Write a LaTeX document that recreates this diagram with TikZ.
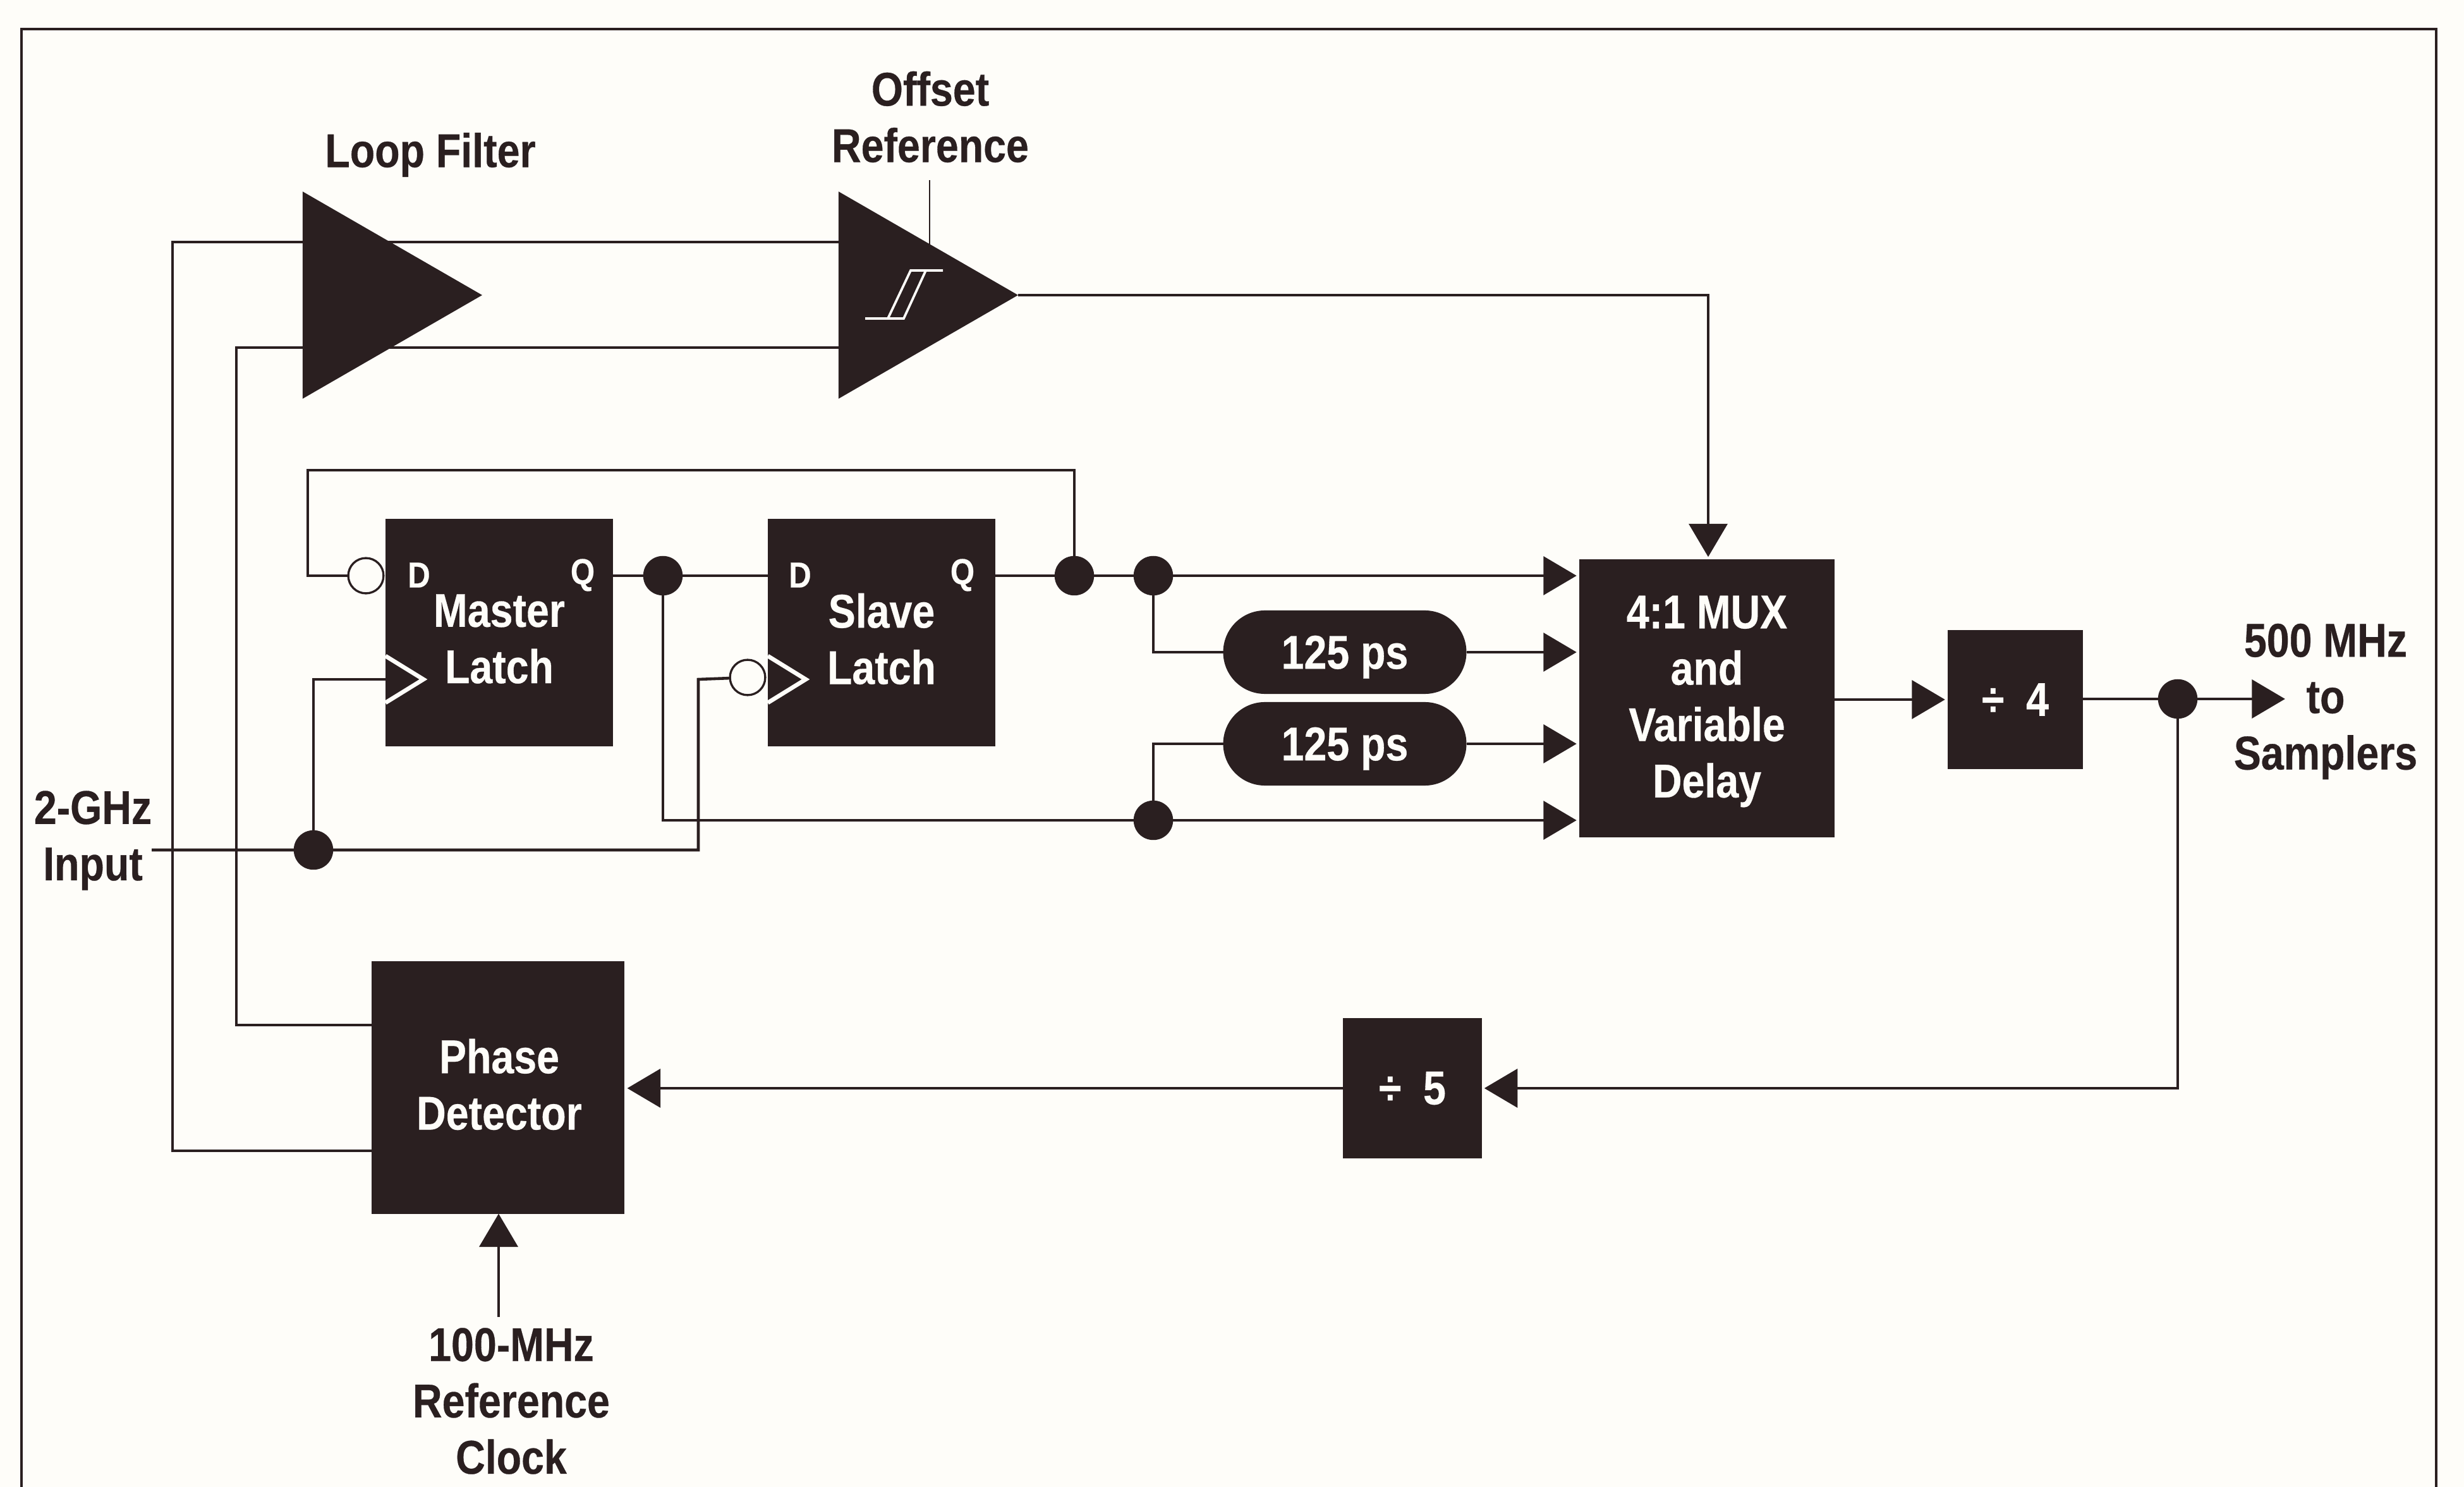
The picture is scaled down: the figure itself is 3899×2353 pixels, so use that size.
\documentclass[tikz,border=0pt]{standalone}
\usepackage{fontspec}
\usetikzlibrary{arrows.meta,shapes.geometric,shapes.misc,backgrounds}
\newfontfamily\labfont[FakeStretch=0.86,BoldFeatures={FakeStretch=0.86,FakeBold=0.4}]{Liberation Sans}
\definecolor{ink}{HTML}{2A1F20}
\definecolor{paper}{HTML}{FEFDF9}
\tikzset{
  x=0.24pt,y=-0.24pt,
  wire/.style={draw=ink,line width=1.1pt,line join=miter},
  arr/.style={wire,-{Triangle[length=12.6pt,width=14.6pt]},shorten >=1pt},
  blk/.style={rectangle,fill=ink,text=paper,inner sep=0pt,outer sep=0pt,align=center,
    font=\labfont\bfseries\fontsize{18}{21.4}\selectfont},
  oval/.style={blk,rounded rectangle,minimum width=92.4pt,minimum height=31.7pt,text depth=0pt},
  amp/.style={isosceles triangle,isosceles triangle stretches=true,fill=ink,inner sep=0pt,outer sep=0pt,
    minimum height=68.2pt,minimum width=78.7pt,anchor=apex},
  lab/.style={text=ink,inner sep=0pt,align=center,
    font=\labfont\bfseries\fontsize{18}{21.4}\selectfont},
  inlab/.style={lab,text=paper},
  pin/.style={text=paper,inner sep=0pt,font=\labfont\bfseries\fontsize{13.7}{16}\selectfont},
  dot/.style={circle,fill=ink,inner sep=0pt,outer sep=0pt,minimum size=15pt},
  bub/.style={circle,fill=paper,draw=ink,line width=0.8pt,inner sep=0pt,outer sep=0pt,minimum size=13.4pt},
  chev/.style={draw=paper,line width=1.6pt,line join=miter},
}
\begin{document}
\begin{tikzpicture}
\useasboundingbox (0,0) rectangle (3899,2353);
% blocks
\node[amp] (lf) at (763,467) {};
\node[amp] (cmp) at (1611,467) {};
\node[blk,minimum width=86.4pt,minimum height=86.2pt] (ml) at (790,1001) {};
\node[blk,minimum width=86.4pt,minimum height=86.2pt] (sl) at (1395,1001) {};
\node[blk,minimum width=97pt,minimum height=105.4pt] (mux) at (2701,1105) {};
\node[blk,minimum width=51.4pt,minimum height=52.8pt] (d4) at (3189,1107) {÷\hspace{4pt} 4};
\node[blk,minimum width=52.6pt,minimum height=53.3pt] (d5) at (2235,1722) {÷\hspace{4pt} 5};
\node[blk,minimum width=96.2pt,minimum height=95.8pt] (pd) at (788,1721) {};
\node[oval] (o1) at (2128,1032) {125 ps};
\node[oval] (o2) at (2128,1177) {125 ps};
% text on the blocks
\node[inlab] (mt) at (790,1011) {Master\\Latch};
\node[inlab] (st) at (1395,1011) {Slave\\Latch};
\node[inlab] (muxt) at (2701,1110) {4:1 MUX\\and\\Variable\\Delay};
\node[inlab] (pdt) at (790,1716) {Phase\\Detector};
\node[pin] (md) at (663,910) {D};
\node[pin] (mq) at (922,910) {Q};
\node[pin] (sd) at (1266,910) {D};
\node[pin] (sq) at (1523,910) {Q};
% hysteresis symbol
\draw[draw=paper,line width=0.9pt] (1369,504) -- (1430,504) -- (1465,428) -- (1492,428);
\draw[draw=paper,line width=0.9pt] (1405,504) -- (1441,428) -- (1465,428);
% junctions and bubbles
\node[dot] (j1) at (1049,911) {};
\node[dot] (j2) at (1700,911) {};
\node[dot] (j3) at (1825,911) {};
\node[dot] (j4) at (1825,1298) {};
\node[dot] (j5) at (496,1345) {};
\node[dot] (j6) at (3446,1106) {};
\node[bub] (bm) at (579,911) {};
\node[bub] (bs) at (1183,1072) {};
% clock chevrons
\draw[chev] (ml.west |- 0,1038) -- (670,1075) -- (ml.west |- 0,1112);
\draw[chev] (sl.west |- 0,1038) -- (1275,1075) -- (sl.west |- 0,1112);
% labels
\node[lab] (tlf) at (681,245) {Loop Filter};
\node[lab] (tor) at (1472,185) {Offset\\Reference};
\node[lab] (tin) at (147,1330) {2-GHz\\Input};
\node[lab] (tout) at (3680,1110) {500 MHz\\to\\Samplers};
\node[lab] (tclk) at (809,2217) {100-MHz\\Reference\\Clock};
% free ends
\coordinate (cTop) at (1471,285);
\coordinate (cIn) at (240,1345);
\coordinate (cClk) at (789,2084);
\coordinate (cMuxIn) at (2703,467);
\coordinate (cFbL) at (487,744);
\coordinate (cFbR) at (1700,744);
\coordinate (cUp) at (273,383);
\coordinate (cLo) at (374,550);
\coordinate (cPdU) at (374,1622);
\coordinate (cPdL) at (273,1821);
\coordinate (cCk) at (1105,1075);
\coordinate (cInE) at (1105,1345);
\coordinate (cMClk) at (496,1075);
\coordinate (cVD) at (1049,1298);
\coordinate (cFb) at (3446,1722);
\coordinate (cOut) at (3620,1106);
\begin{pgfonlayer}{background}
  \fill[paper] (0,0) rectangle (3899,2353);
  \draw[wire,line width=0.85pt] (34,2353) -- (34,46) -- (3855,46) -- (3855,2353);
  % loop filter / comparator
  \draw[wire] (pd.west |- cPdL) -- (cPdL) -- (cUp) -- (cUp -| cmp.west);
  \draw[wire] (pd.west |- cPdU) -- (cPdU) -- (cLo) -- (cLo -| cmp.west);
  \draw[wire,line width=0.7pt] (cTop) -- (1471,400);
  \draw[arr] (cmp.apex) -- (cMuxIn) -- (cMuxIn |- mux.north);
  % latch chain
  \draw[wire] (j2) -- (cFbR) -- (cFbL) -- (cFbL |- bm) -- (bm);
  \draw[wire] (ml.east |- j1) -- (sl.west |- j1);
  \draw[wire] (sl.east |- j2) -- (j3);
  \draw[wire] (j5) -- (cMClk) -- (ml.west |- cMClk);
  \draw[wire] (cIn) -- (cInE) -- (cCk) -- (bs);
  \draw[wire] (j1) -- (cVD) -- (j4);
  % MUX inputs
  \draw[arr] (j3) -- (j3 -| mux.west);
  \draw[arr] (j4) -- (j4 -| mux.west);
  \draw[wire] (j3) |- (o1.west);
  \draw[wire] (j4) |- (o2.west);
  \draw[arr] (o1.east) -- (o1 -| mux.west);
  \draw[arr] (o2.east) -- (o2 -| mux.west);
  % output
  \draw[arr] (mux.east |- d4) -- (d4.west);
  \draw[wire] (d4.east |- j6) -- (j6);
  \draw[arr] (j6) -- (cOut);
  % feedback
  \draw[arr] (j6) -- (cFb) -- (d5.east);
  \draw[arr] (d5.west) -- (pd.east |- d5);
  \draw[arr,shorten >=0pt] (cClk) -- (cClk |- pd.south);
\end{pgfonlayer}
\end{tikzpicture}
\end{document}
